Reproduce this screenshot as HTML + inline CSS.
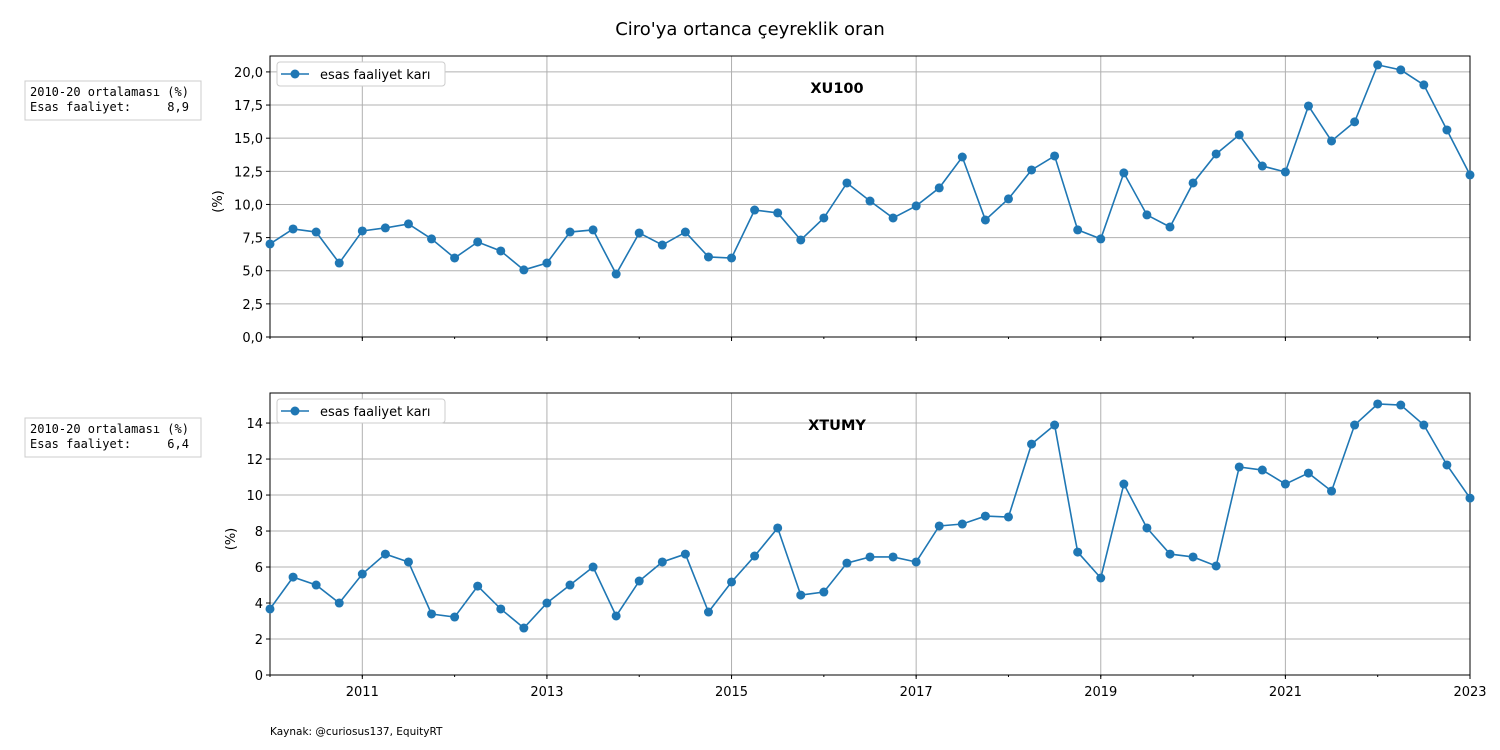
<!DOCTYPE html>
<html><head><meta charset="utf-8">
<style>
body{margin:0;background:#fff;}
svg{display:block;font-family:"DejaVu Sans","Liberation Sans",sans-serif;}
</style></head>
<body>
<svg id="chart" width="1500" height="750" viewBox="0 0 1500 750">
<text x="750" y="35" text-anchor="middle" font-size="18">Ciro'ya ortanca çeyreklik oran</text>
<text x="270" y="735" font-size="10.5">Kaynak: @curiosus137, EquityRT</text>
</svg>
<script>
const years=[2010,2023];
const topValues=[7.02,8.15,7.92,5.58,8.0,8.23,8.53,7.4,5.96,7.17,6.49,5.06,5.58,7.92,8.08,4.75,7.85,6.94,7.92,6.04,5.96,9.58,9.36,7.32,8.98,11.62,10.26,8.98,9.89,11.25,13.58,8.83,10.42,12.6,13.66,8.08,7.4,12.38,9.21,8.3,11.62,13.81,15.25,12.9,12.45,17.43,14.79,16.23,20.53,20.15,19.02,15.62,12.23];
const bottomValues=[3.67,5.44,5.0,4.0,5.61,6.72,6.28,3.39,3.22,4.94,3.67,2.61,4.0,5.0,6.0,3.28,5.22,6.28,6.72,3.5,5.17,6.61,8.17,4.44,4.61,6.22,6.56,6.56,6.28,8.28,8.39,8.83,8.78,12.83,13.89,6.83,5.39,10.61,8.17,6.72,6.56,6.06,11.56,11.39,10.61,11.22,10.22,13.89,15.06,15.0,13.89,11.67,9.83];
const topTicks=[0,2.5,5,7.5,10,12.5,15,17.5,20];
const topTickLabels=["0,0","2,5","5,0","7,5","10,0","12,5","15,0","17,5","20,0"];
const bottomTicks=[0,2,4,6,8,10,12,14];
const bottomTickLabels=["0","2","4","6","8","10","12","14"];
const xTickYears=[2011,2013,2015,2017,2019,2021,2023];
const topInfo=["2010-20 ortalaması (%)","Esas faaliyet:     8,9"];
const bottomInfo=["2010-20 ortalaması (%)","Esas faaliyet:     6,4"];

const svg=document.getElementById('chart');
const NS='http://www.w3.org/2000/svg';
function mk(tag,attrs,parent){const e=document.createElementNS(NS,tag);for(const k in attrs)e.setAttribute(k,attrs[k]);(parent||svg).appendChild(e);return e;}

function panel(p){
  const L=270,R=1470,T=p.top,B=p.bottom;
  const x=t=>L+(t-years[0])/(years[1]-years[0])*(R-L);
  const y=v=>B-(v-0)/(p.ymax)*(B-T);
  const g=mk('g',{});
  
  
  p.ticks.forEach((t,i)=>{
    const l=mk('line',{x1:L,x2:R,y1:y(t),y2:y(t),stroke:'#b0b0b0','stroke-width':1},g);
    
    
    mk('line',{x1:L-4,x2:L,y1:y(t),y2:y(t),stroke:'#000'},g);
    const tx=mk('text',{x:L-7,y:y(t)+5,'text-anchor':'end','font-size':13},g);
    tx.textContent=p.labels[i];
    
    
  });
  xTickYears.forEach(yr=>{
    const l=mk('line',{x1:x(yr),x2:x(yr),y1:T,y2:B,stroke:'#b0b0b0'},g);
    
    
    mk('line',{x1:x(yr),x2:x(yr),y1:B,y2:B+4,stroke:'#000'},g);
    if(p.showX){
      const tx=mk('text',{x:x(yr),y:B+21,'text-anchor':'middle','font-size':13},g);
      tx.textContent=yr;
      
      
    }
  });
  for(let yr=2010;yr<=2023;yr++){mk('line',{x1:x(yr),x2:x(yr),y1:B,y2:B+2,stroke:'#000'},g);}
  mk('rect',{x:L,y:T,width:R-L,height:B-T,fill:'none',stroke:'#000','stroke-width':1},g);
  const pts=p.values.map((v,i)=>[x(years[0]+i*0.25),y(v)]);
  const line=mk('polyline',{points:pts.map(q=>q.join(',')).join(' '),fill:'none',stroke:'#1f77b4','stroke-width':1.6},g);
  
  
  pts.forEach(q=>{
    const c=mk('circle',{cx:q[0],cy:q[1],r:4.5,fill:'#1f77b4'},g);
    
    
  });
  const yl=mk('text',{x:0,y:0,'text-anchor':'middle','font-size':13,transform:`translate(${p.ylabelX},${(T+B)/2+5}) rotate(-90)`},g);
  yl.textContent='(%)';
  
  
  const lg=mk('g',{},g);
  
  
  mk('rect',{x:277,y:T+6,width:168,height:24,rx:3,fill:'#fff',stroke:'#ccc'},lg);
  mk('line',{x1:281,x2:309,y1:T+18,y2:T+18,stroke:'#1f77b4','stroke-width':1.6},lg);
  mk('circle',{cx:295,cy:T+18,r:4.5,fill:'#1f77b4'},lg);
  const lt=mk('text',{x:320,y:T+23,'font-size':13},lg);lt.textContent='esas faaliyet karı';
  const pt=mk('text',{x:837,y:T+37,'text-anchor':'middle','font-size':14.5,'font-weight':'bold'},g);
  pt.textContent=p.title;
  
  
  const ib=mk('g',{},g);
  
  
  mk('rect',{x:25,y:T+25,width:176,height:39,fill:'#fff',stroke:'#ccc'},ib);
  p.info.forEach((s,i)=>{const t=mk('text',{x:30,y:T+40+i*15,'font-size':12,'font-family':'"DejaVu Sans Mono","Liberation Mono",monospace'},ib);t.textContent=s;t.style.whiteSpace='pre';});
}
panel({name:'xu100',top:56,bottom:337,ymax:21.2,ticks:topTicks,labels:topTickLabels,values:topValues,title:'XU100',info:topInfo,showX:false,ylabelX:222});
panel({name:'xtumy',top:393,bottom:675,ymax:15.67,ticks:bottomTicks,labels:bottomTickLabels,values:bottomValues,title:'XTUMY',info:bottomInfo,showX:true,ylabelX:235});
</script>
</body></html>
